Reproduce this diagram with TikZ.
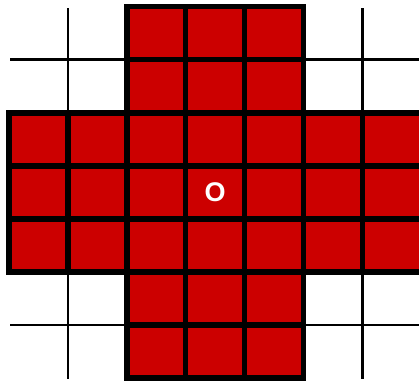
\documentclass[tikz,border=0pt]{standalone}
\usepackage{fontspec}
\setmainfont{Liberation Sans}
\definecolor{cellred}{RGB}{204,0,0}
\begin{document}
\begin{tikzpicture}[
  cellbox/.style={fill=cellred, draw=black, line width=5.5pt, line join=miter},
  thinline/.style={draw=black, line width=2.5pt},
  centertext/.style={text=white, inner sep=0pt, font=\fontsize{27}{27}\selectfont\bfseries}
]
\useasboundingbox (0,0) rectangle (419pt,383pt);
\clip (0,0) rectangle (419pt,383pt);
\begin{scope}[shift={(9pt,376.3pt)}, x=58.9pt, y=-53.04pt]
  % thin grid lines in the empty corners
  \draw[thinline] (1,0.03) -- (1,2);
  \draw[thinline] (6,0.03) -- (6,2);
  \draw[thinline] (1,5) -- (1,7.02);
  \draw[thinline] (6,5) -- (6,7.02);
  \draw[thinline] (0.02,1) -- (2,1);
  \draw[thinline] (5,1) -- (7.2,1);
  \draw[thinline] (0.02,6) -- (2,6);
  \draw[thinline] (5,6) -- (7.2,6);
  % red cells of the cross
  \foreach \i in {2,3,4}
    \foreach \j in {0,...,6}
      \draw[cellbox] (\i,\j) rectangle ++(1,1);
  \foreach \i in {0,1,5,6}
    \foreach \j in {2,3,4}
      \draw[cellbox] (\i,\j) rectangle ++(1,1);
  \node[centertext] (o) at (3.5,3.5) {O};
\end{scope}
\end{tikzpicture}
\end{document}
